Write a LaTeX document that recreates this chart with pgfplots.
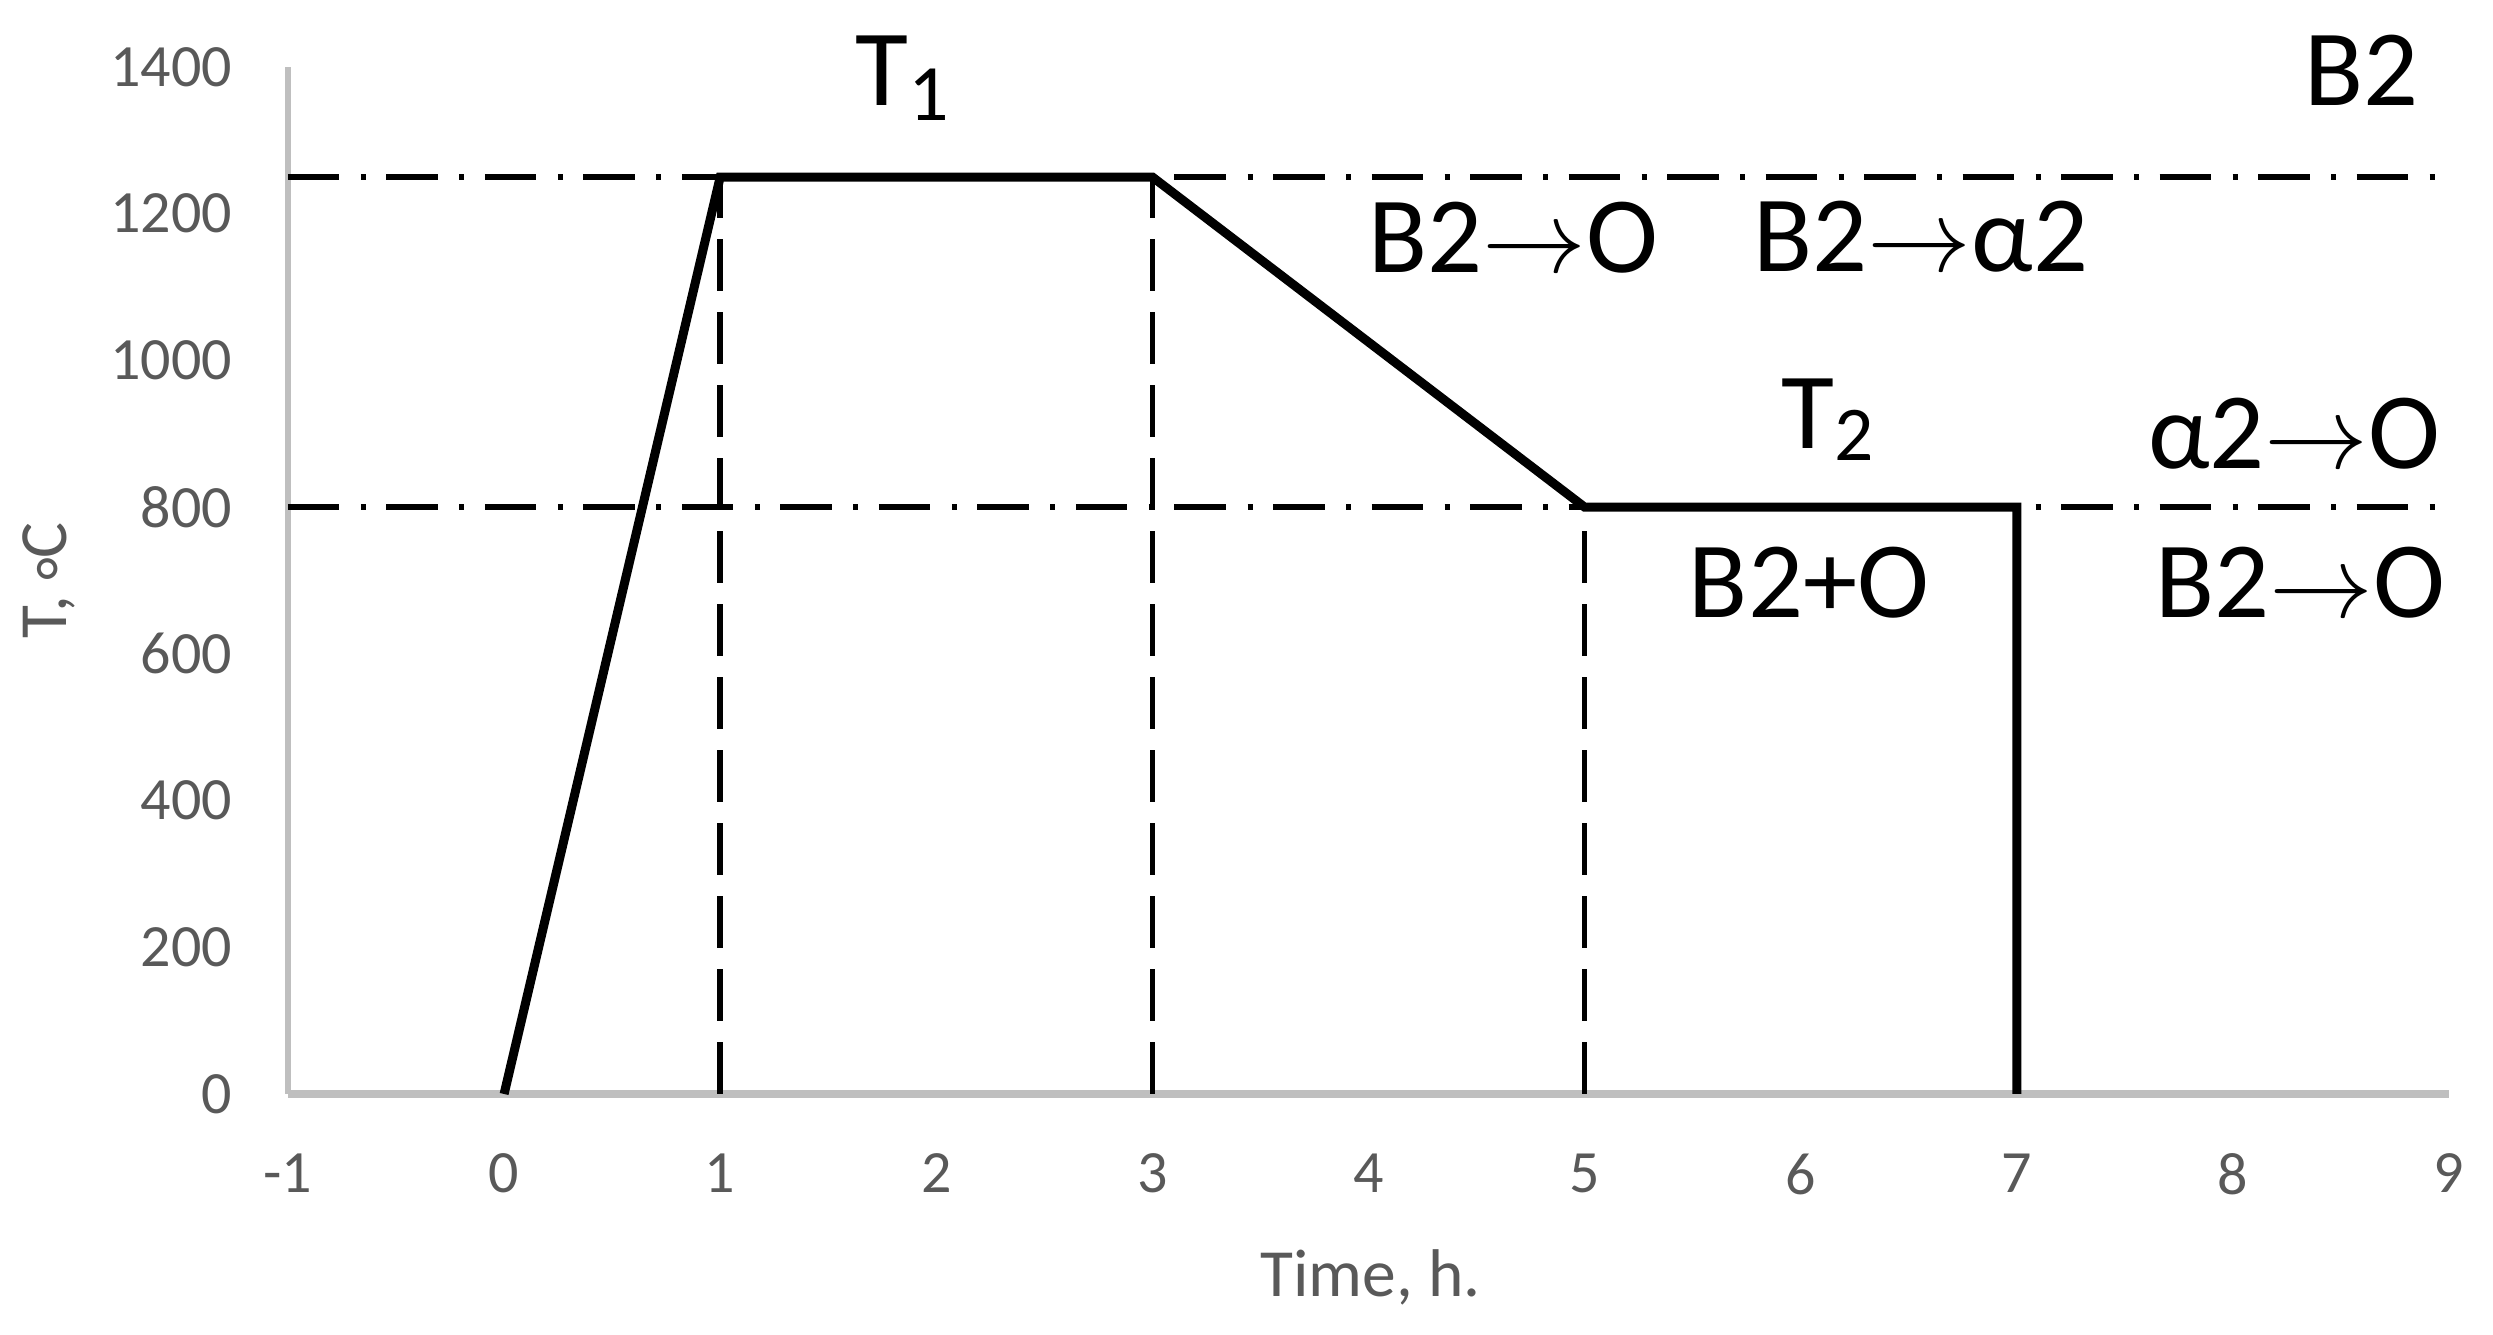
\documentclass[border=0pt]{standalone}
\usepackage{fontspec}
\setmainfont{Carlito}
\usepackage{graphicx}
\usepackage{pgfplots}
\pgfplotsset{compat=1.18}
\usetikzlibrary{calc}
\definecolor{tickgray}{HTML}{595959}
\definecolor{axgray}{HTML}{BFBFBF}
\newcommand\bigfont{\fontsize{21.7}{26}\selectfont}
\begin{document}
\begin{tikzpicture}
\begin{axis}[
  scale only axis, width=432.2pt, height=205.4pt,
  xmin=-1, xmax=9, ymin=0, ymax=1400,
  axis x line=bottom, axis y line=left,
  x axis line style={draw=axgray, line width=1.7pt, -},
  y axis line style={draw=axgray, line width=1.1pt, -},
  xtick={-1,0,1,2,3,4,5,6,7,8,9},
  xticklabels={-1,0,1,2,3,4,5,6,7,8,9},
  ytick={0,200,400,600,800,1000,1200,1400},
  yticklabels={0,200,400,600,800,1000,1200,1400},
  major tick length=0pt, tick style={draw=none},
  ticklabel style={font=\fontsize{12}{14}\selectfont, text=tickgray, inner sep=0pt},
  xticklabel style={anchor=north, yshift=-11.8pt},
  yticklabel style={anchor=east, xshift=-11pt},
  clip=false,
]
% dash-dot reference levels
\addplot[black, line width=1.1pt, dash pattern=on 10.3pt off 4.3pt on 1pt off 4.1pt] coordinates {(-1,1250) (9,1250)};
\addplot[black, line width=1.1pt, dash pattern=on 10.3pt off 4.3pt on 1pt off 4.1pt] coordinates {(-1,800) (9,800)};
% dashed verticals
\addplot[black, line width=1.1pt, dash pattern=on 10.3pt off 4.3pt] coordinates {(1,0) (1,1250)};
\addplot[black, line width=1.1pt, dash pattern=on 10.3pt off 4.3pt] coordinates {(3,0) (3,1250)};
\addplot[black, line width=1.1pt, dash pattern=on 10.3pt off 4.3pt] coordinates {(5,0) (5,800)};
% heat treatment schedule
\addplot[black, line width=1.8pt] coordinates {(0,0) (1,1250) (3,1250) (5,800) (7,800) (7,0)};
% annotations
\node[anchor=base, font=\bigfont, inner sep=0pt] at (axis cs:1.841,1348) {T\raisebox{-3pt}{\fontsize{16}{16}\selectfont 1}};
\node[anchor=base, font=\bigfont, inner sep=0pt] at (axis cs:8.597,1348) {B2};
\node[anchor=base, font=\bigfont, inner sep=0pt] at (axis cs:4.669,1120) {B2$\rightarrow$O};
\node[anchor=base, font=\bigfont, inner sep=0pt] at (axis cs:6.557,1121) {B2$\rightarrow$α2};
\node[anchor=base, font=\bigfont, inner sep=0pt] at (axis cs:6.126,880) {T\raisebox{-2.4pt}{\fontsize{15.5}{16}\selectfont 2}};
\node[anchor=base, font=\bigfont, inner sep=0pt] at (axis cs:8.283,853) {α2$\rightarrow$O};
\node[anchor=base, font=\bigfont, inner sep=0pt] at (axis cs:6.038,649) {B2+O};
\node[anchor=base, font=\bigfont, inner sep=0pt] at (axis cs:8.311,650) {B2$\rightarrow$O};
\end{axis}
\node[anchor=base, rotate=90, font=\fontsize{13.5}{16}\selectfont, text=tickgray, inner sep=0pt]
  at ($(current axis.south west)!0.5!(current axis.north west)+(-44.2pt,0)$) {T, \raisebox{-0.24em}{°}C};
\node[anchor=base, font=\fontsize{13.5}{16}\selectfont, text=tickgray, inner sep=0pt]
  at ($(current axis.south west)!0.501!(current axis.south east)+(0,-40.6pt)$) {Time, h.};
\pgfresetboundingbox
\path[use as bounding box] ($(current axis.south west)+(-57.6pt,-48.2pt)$) rectangle ($(current axis.north east)+(8.8pt,13.4pt)$);
\end{tikzpicture}
\end{document}
